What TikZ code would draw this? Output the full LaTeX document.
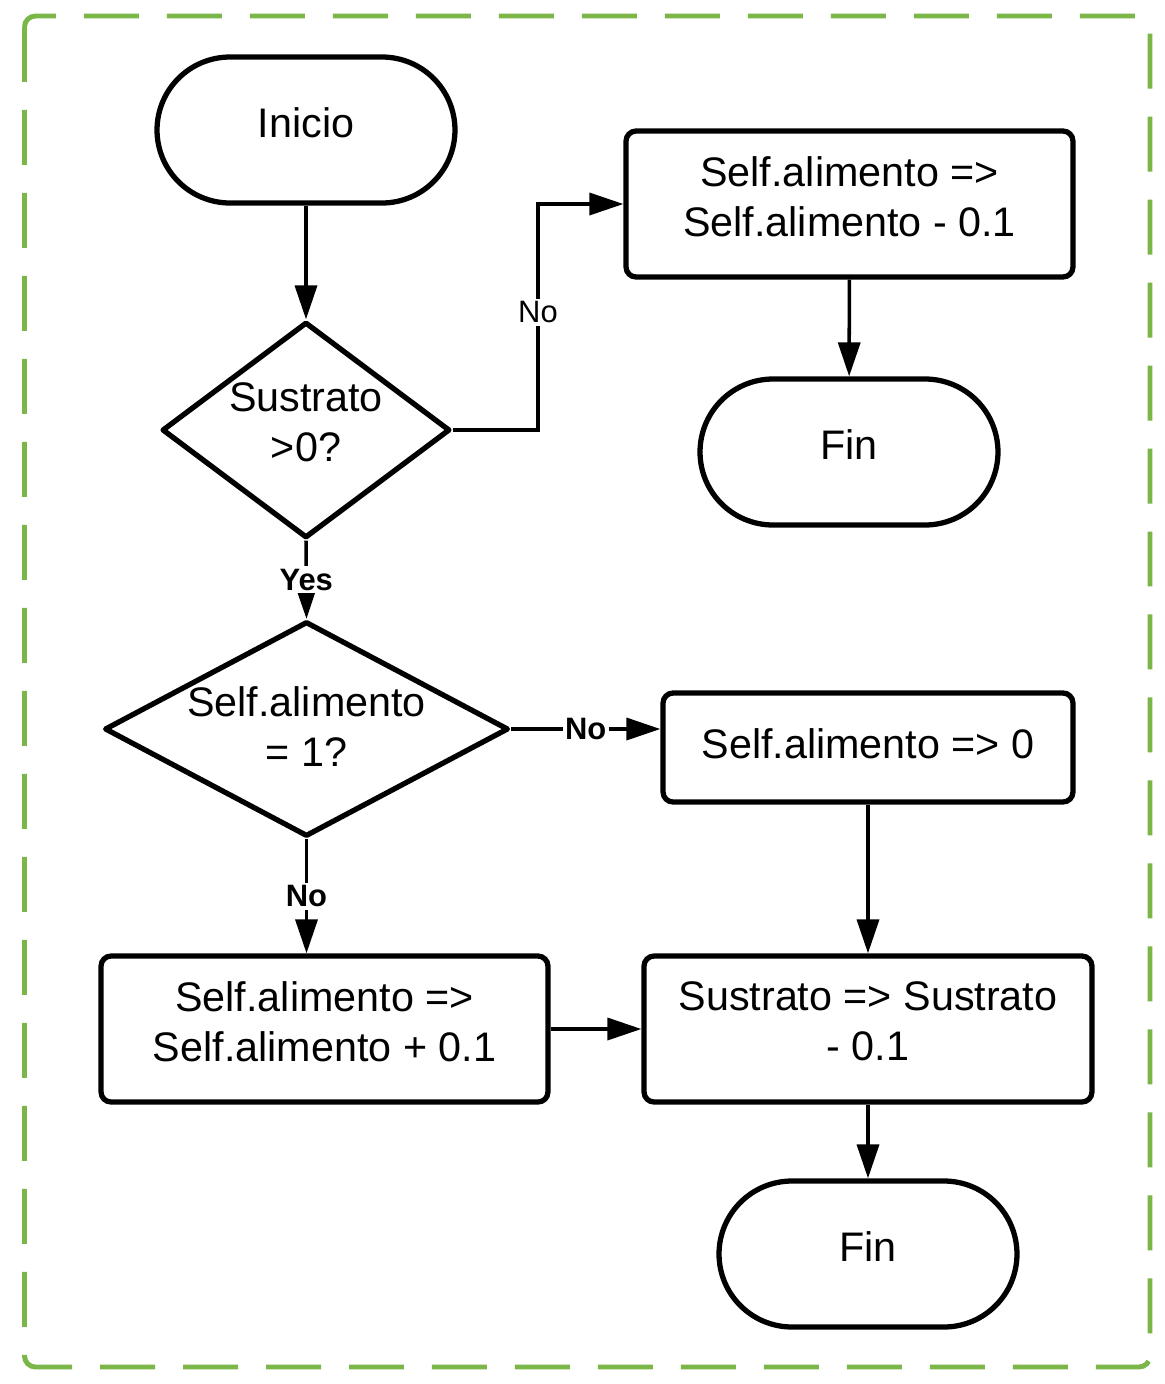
\documentclass[tikz,border=0pt]{standalone}
\usepackage{fontspec}
\setmainfont{Liberation Sans}
\usetikzlibrary{shapes.geometric,arrows.meta,positioning}
\definecolor{frame}{RGB}{122,182,72}

\begin{document}
\begin{tikzpicture}[x=0.02cm,y=-0.02cm,
  txt/.style={font=\fontsize{23.5}{28.5}\selectfont,align=center,text depth=0.3cm},
  term/.style={txt,draw,line width=3pt,rounded corners=1.46cm,minimum width=5.96cm,minimum height=2.92cm,inner sep=0pt},
  proc/.style={txt,draw,line width=3pt,rounded corners=0.2cm,minimum height=2.92cm,inner sep=0pt},
  dec/.style={txt,diamond,draw,line width=3pt,line join=round,inner sep=-1.2cm},
  conn/.style={line width=2pt,-{Triangle[length=0.68cm,width=0.44cm]}},
  lbl/.style={font=\fontsize{17.6}{20}\selectfont,fill=white,inner sep=1.5pt}]
\useasboundingbox (0,0) rectangle (1165,1384);
\draw[frame,line width=2.8pt,dash pattern=on 1.1cm off 0.56cm,rounded corners=0.22cm] (24.5,16) rectangle (1150,1367);

\node (s0) at (306,130) [term] {Inicio};
\node (d0) at (306,430) [dec,minimum width=5.76cm,minimum height=4.32cm] {Sustrato\\>0?};
\node (p0) at (849.5,204) [proc,minimum width=8.94cm] {Self.alimento =>\\Self.alimento - 0.1};
\node (f0) at (849,452) [term] {Fin};
\node (d1) at (306.5,729) [dec,text depth=0.1cm,minimum width=8.08cm,minimum height=4.3cm] {Self.alimento\\= 1?};
\node (p1) at (868,747.5) [proc,text depth=0.15cm,minimum width=8.2cm,minimum height=2.18cm] {Self.alimento => 0};
\node (p2) at (324.5,1029) [proc,minimum width=8.94cm] {Self.alimento =>\\Self.alimento + 0.1};
\node (p3) at (868,1029) [proc,minimum width=8.96cm] {Sustrato => Sustrato\\- 0.1};
\node (f1) at (868,1254) [term] {Fin};

\coordinate (k0) at (538,204);

\foreach \a/\b in {s0/d0,p0/f0,p1/p3,p2/p3,p3/f1} {
\draw[conn] (\a) -- (\b);
};
\draw[conn] (d0.east) -| node[lbl,pos=0.76] {No} (k0) -- (p0.west);
\draw[conn] (d0.south) -- node[lbl,font=\fontsize{17.6}{20}\selectfont\bfseries] {Yes} (d1.north);
\draw[conn] (d1.east) -- node[lbl,font=\fontsize{17.6}{20}\selectfont\bfseries] {No} (d1.east -| p1.west);
\draw[conn] (d1.south) -- node[lbl,font=\fontsize{17.6}{20}\selectfont\bfseries] {No} (d1.south |- p2.north);
\end{tikzpicture}
\end{document}
